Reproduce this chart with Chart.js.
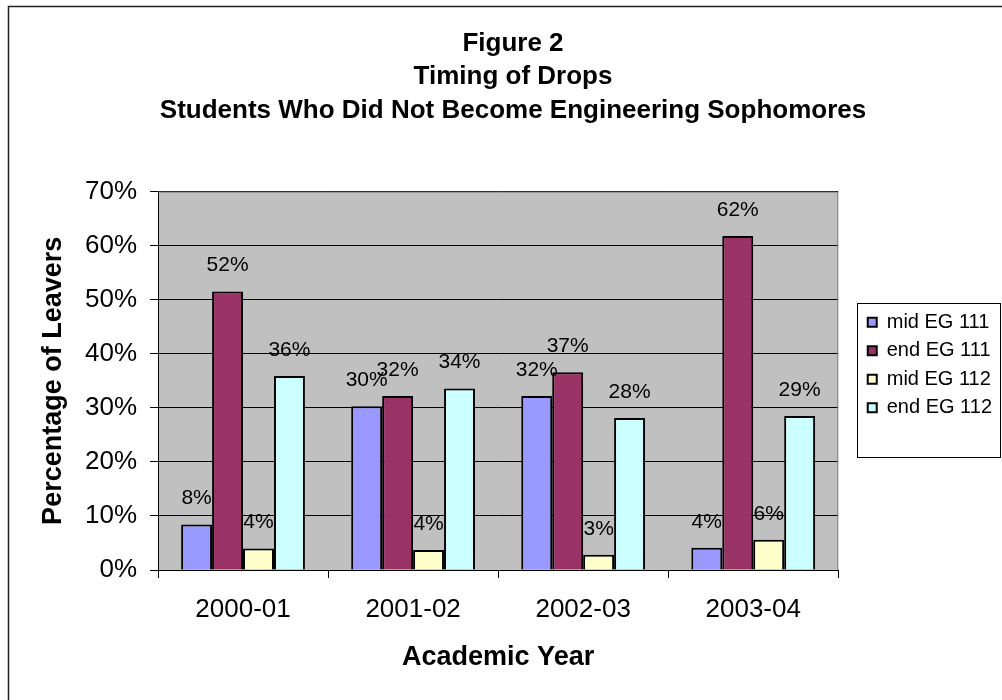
<!DOCTYPE html>
<html>
<head>
<meta charset="utf-8">
<title>Figure 2 - Timing of Drops</title>
<script src="https://cdn.jsdelivr.net/npm/chart.js@4.4.0/dist/chart.umd.min.js"></script>
<style>
  html, body { margin: 0; padding: 0; background: #fff; }
  #wrap { width: 1002px; height: 700px; position: relative; }
</style>
</head>
<body>
<div id="wrap"><canvas id="chart" width="1002" height="700"></canvas></div>
<script>
// Chart data
const years = ['2000-01', '2001-02', '2002-03', '2003-04'];
const midEG111 = [8.4, 30.3, 32.2, 4.1];
const endEG111 = [51.5, 32.2, 36.6, 61.8];
const midEG112 = [4.0, 3.7, 2.8, 5.6];
const endEG112 = [35.9, 33.6, 28.1, 28.5];
const seriesNames = ['mid EG 111', 'end EG 111', 'mid EG 112', 'end EG 112'];
const seriesColors = ['#9999FF', '#993366', '#FFFFCC', '#CCFFFF'];
const yTicks = [0, 10, 20, 30, 40, 50, 60, 70];
const titleLines = ['Figure 2', 'Timing of Drops', 'Students Who Did Not Become Engineering Sophomores'];

const FONT = "'Liberation Sans', Arial, Helvetica, sans-serif";

// Background, outer border, grey plot area and legend frame
const chartFrame = {
    id: 'chartFrame',
    beforeDraw(chart) {
        const { ctx, chartArea: a } = chart;
        ctx.save();
        ctx.fillStyle = '#fff';
        ctx.fillRect(0, 0, chart.width, chart.height);
        ctx.strokeStyle = '#222';
        ctx.lineWidth = 1.5;
        ctx.beginPath();
        ctx.moveTo(8.5, chart.height + 5);
        ctx.lineTo(8.5, 6.5);
        ctx.lineTo(chart.width + 5, 6.5);
        ctx.stroke();
        ctx.fillStyle = '#C0C0C0';
        ctx.fillRect(a.left, a.top, a.right - a.left, a.bottom - a.top);
        ctx.restore();
    },
    beforeDatasetsDraw(chart) {
        const { ctx, chartArea: a } = chart;
        ctx.save();
        ctx.strokeStyle = '#808080';
        ctx.lineWidth = 1;
        ctx.beginPath();
        ctx.moveTo(a.left, a.top + 0.5);
        ctx.lineTo(a.right - 0.5, a.top + 0.5);
        ctx.lineTo(a.right - 0.5, a.bottom);
        ctx.stroke();
        ctx.restore();
    },
    afterLayout(chart) {
        // move the legend items down a bit, like the original
        chart.legend.top += 15;
        chart.legend.bottom += 15;
    },
    afterDraw(chart) {
        const lg = chart.legend;
        const boxes = lg.legendHitBoxes;
        if (!boxes || !boxes.length) return;
        const first = boxes[0];
        const last = boxes[boxes.length - 1];
        const ctx = chart.ctx;
        ctx.save();
        ctx.strokeStyle = '#000';
        ctx.lineWidth = 1;
        const top = Math.round(first.top - 9) + 0.5;
        const bottom = Math.round(last.top + last.height + 39) + 0.5;
        ctx.strokeRect(Math.round(lg.left) - 1.5, top, Math.round(lg.right - lg.left), bottom - top);
        ctx.restore();
    }
};

// Percent labels above each bar
const barLabels = {
    id: 'barLabels',
    afterDatasetsDraw(chart) {
        const ctx = chart.ctx;
        ctx.save();
        ctx.font = '21px ' + FONT;
        ctx.fillStyle = '#000';
        ctx.textAlign = 'center';
        ctx.textBaseline = 'middle';
        chart.data.datasets.forEach((ds, i) => {
            chart.getDatasetMeta(i).data.forEach((bar, j) => {
                ctx.fillText(Math.round(ds.data[j]) + '%', bar.x, bar.y - 26);
            });
        });
        ctx.restore();
    }
};

const seriesData = [midEG111, endEG111, midEG112, endEG112];

new Chart(document.getElementById('chart'), {
    type: 'bar',
    data: {
        labels: years,
        datasets: seriesData.map((values, i) => ({
            label: seriesNames[i],
            data: values,
            backgroundColor: seriesColors[i],
            borderColor: '#000',
            borderWidth: 2,
            categoryPercentage: 0.728,
            barPercentage: 1.0
        }))
    },
    options: {
        responsive: false,
        animation: false,
        devicePixelRatio: 1,
        layout: { padding: { left: 24, right: 0, top: 0, bottom: 0 } },
        plugins: {
            title: {
                display: true,
                text: titleLines,
                color: '#000',
                font: { family: FONT, size: 26, weight: 'bold', lineHeight: 1.29 },
                padding: { top: 27, bottom: 64 }
            },
            legend: {
                position: 'right',
                labels: {
                    color: '#000',
                    font: { family: FONT, size: 20 },
                    boxWidth: 9,
                    boxHeight: 9,
                    padding: 8.5
                }
            },
            tooltip: { enabled: false }
        },
        scales: {
            x: {
                offset: true,
                grid: {
                    display: true,
                    offset: true,
                    drawOnChartArea: false,
                    drawTicks: true,
                    tickLength: 8,
                    color: '#000'
                },
                border: { display: true, color: '#000', width: 1 },
                ticks: {
                    color: '#000',
                    font: { family: FONT, size: 26 },
                    padding: 16
                },
                title: {
                    display: true,
                    text: 'Academic Year',
                    color: '#000',
                    font: { family: FONT, size: 27, weight: 'bold' },
                    padding: { top: 0, bottom: 26 }
                },
                afterFit(axis) { axis.height = 130; }
            },
            y: {
                min: 0,
                max: 70,
                grid: {
                    color: '#000',
                    lineWidth: 1,
                    tickLength: 8,
                    drawTicks: true
                },
                border: { display: true, color: '#000', width: 1 },
                afterBuildTicks(axis) {
                    axis.ticks = yTicks.map(v => ({ value: v }));
                },
                ticks: {
                    color: '#000',
                    font: { family: FONT, size: 26 },
                    padding: 13,
                    callback: v => v + '%'
                },
                title: {
                    display: true,
                    text: 'Percentage of Leavers',
                    color: '#000',
                    font: { family: FONT, size: 27, weight: 'bold' },
                    padding: { top: 13, bottom: 0 }
                },
                afterFit(axis) { axis.width = 134; }
            },
            gap: {
                type: 'linear',
                position: 'right',
                display: true,
                grid: { display: false },
                border: { display: false },
                ticks: { display: false },
                afterFit(axis) { axis.width = 21; }
            }
        }
    },
    plugins: [chartFrame, barLabels]
});
</script>
</body>
</html>
